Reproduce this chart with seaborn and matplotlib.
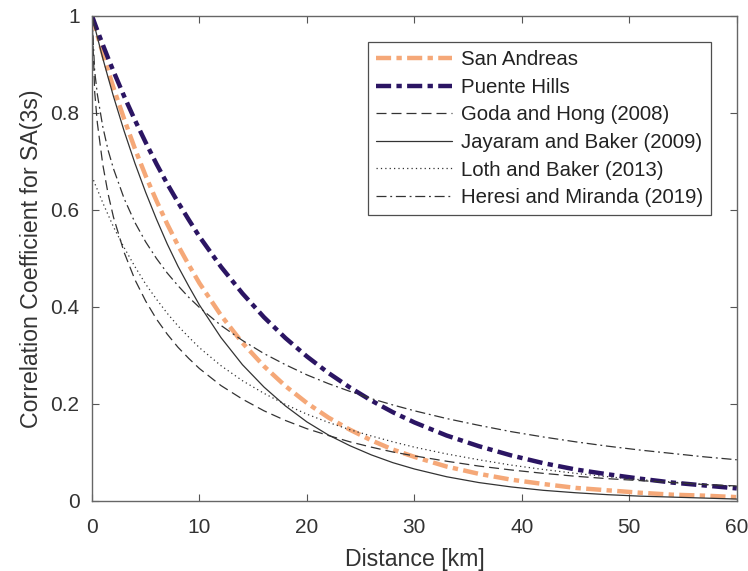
import numpy as np
import pandas as pd
import seaborn as sns
import matplotlib.pyplot as plt

distance = [0, 0.25, 0.5, 1, 1.5, 2, 3, 4, 5, 6, 7, 8, 9, 10, 12, 14, 16, 18, 20,
            22, 24, 26, 28, 30, 33, 36, 39, 42, 45, 48, 51, 54, 57, 60]

san_andreas = [1.0, 0.980, 0.961, 0.923, 0.887, 0.852, 0.787, 0.726, 0.670, 0.619,
               0.571, 0.527, 0.487, 0.449, 0.383, 0.326, 0.278, 0.237, 0.202,
               0.172, 0.147, 0.125, 0.106, 0.091, 0.071, 0.056, 0.044, 0.035,
               0.027, 0.022, 0.017, 0.013, 0.011, 0.008]

puente_hills = [1.0, 0.985, 0.970, 0.941, 0.913, 0.886, 0.834, 0.785, 0.739, 0.695,
                0.654, 0.616, 0.580, 0.545, 0.483, 0.428, 0.379, 0.336, 0.298,
                0.264, 0.234, 0.207, 0.183, 0.162, 0.135, 0.113, 0.094, 0.078,
                0.065, 0.055, 0.046, 0.038, 0.032, 0.026]

goda_hong = [1.0, 0.843, 0.779, 0.694, 0.633, 0.585, 0.512, 0.456, 0.412, 0.375,
             0.344, 0.317, 0.294, 0.273, 0.238, 0.210, 0.186, 0.166, 0.149,
             0.135, 0.122, 0.111, 0.101, 0.093, 0.082, 0.072, 0.064, 0.057,
             0.051, 0.046, 0.042, 0.038, 0.034, 0.031]

jayaram_baker = [1.0, 0.978, 0.956, 0.913, 0.873, 0.834, 0.762, 0.696, 0.636, 0.581,
                 0.530, 0.484, 0.443, 0.404, 0.337, 0.281, 0.235, 0.196, 0.163,
                 0.136, 0.114, 0.095, 0.079, 0.066, 0.050, 0.038, 0.029, 0.022,
                 0.017, 0.013, 0.010, 0.008, 0.006, 0.004]

loth_baker = [0.670, 0.655, 0.642, 0.615, 0.590, 0.565, 0.522, 0.483, 0.447, 0.416,
              0.387, 0.361, 0.338, 0.316, 0.279, 0.248, 0.222, 0.199, 0.179,
              0.162, 0.147, 0.134, 0.122, 0.111, 0.097, 0.085, 0.074, 0.065,
              0.057, 0.050, 0.044, 0.039, 0.034, 0.030]

heresi_miranda = [1.0, 0.886, 0.838, 0.772, 0.723, 0.685, 0.623, 0.574, 0.534, 0.500,
                  0.470, 0.444, 0.420, 0.399, 0.362, 0.331, 0.304, 0.281, 0.260,
                  0.242, 0.226, 0.211, 0.198, 0.186, 0.170, 0.156, 0.143, 0.132,
                  0.122, 0.113, 0.105, 0.098, 0.091, 0.085]

sns.set_style("ticks")
plt.rcParams['font.family'] = ['Liberation Sans', 'DejaVu Sans']

fig = plt.figure(figsize=(7.48, 5.71), dpi=100)
ax = fig.add_axes([0.123, 0.1226, 0.862, 0.8494])

# model curves
sns.lineplot(x=distance, y=san_andreas, ax=ax, color='#f5a878', lw=3.2,
             linestyle=(0, (3.4, 1.2, 1.2, 1.2)), label='San Andreas')
sns.lineplot(x=distance, y=puente_hills, ax=ax, color='#2b1563', lw=3.2,
             linestyle=(0, (3.4, 1.2, 1.2, 1.2)), label='Puente Hills')
sns.lineplot(x=distance, y=goda_hong, ax=ax, color='#333333', lw=0.9,
             linestyle=(0, (8, 4)), label='Goda and Hong (2008)')
sns.lineplot(x=distance, y=jayaram_baker, ax=ax, color='#333333', lw=0.9,
             linestyle='-', label='Jayaram and Baker (2009)')
sns.lineplot(x=distance, y=loth_baker, ax=ax, color='#333333', lw=0.9,
             linestyle=(0, (1, 2.5)), label='Loth and Baker (2013)')
sns.lineplot(x=distance, y=heresi_miranda, ax=ax, color='#333333', lw=0.9,
             linestyle=(0, (8, 3, 1.5, 3)), label='Heresi and Miranda (2019)')

ax.set_xlim(0, 60)
ax.set_ylim(0, 1)
ax.set_xticks([0, 10, 20, 30, 40, 50, 60])
ax.set_yticks([0, 0.2, 0.4, 0.6, 0.8, 1])
ax.set_yticklabels(['0', '0.2', '0.4', '0.6', '0.8', '1'])

for side in ['top', 'right', 'bottom', 'left']:
    ax.spines[side].set_visible(True)
    ax.spines[side].set_color('#666666')
    ax.spines[side].set_linewidth(1.0)
ax.tick_params(direction='in', length=5, width=0.8, color='#555555',
               top=True, right=True, labelsize=15, labelcolor='#333333')
ax.tick_params(axis='x', pad=12)
ax.tick_params(axis='y', pad=9)

ax.set_xlabel('Distance [km]', fontsize=16.7, color='#333333', labelpad=8)
ax.set_ylabel('Correlation Coefficient for SA(3s)', fontsize=16.7, color='#333333', labelpad=5)

leg = ax.legend(loc='upper right', bbox_to_anchor=(0.96, 0.946), borderaxespad=0,
                fontsize=14.7, frameon=True, fancybox=False, handlelength=3.7,
                handletextpad=0.45, labelspacing=0.42, borderpad=0.4)
leg.get_frame().set_edgecolor('#222222')
leg.get_frame().set_linewidth(0.9)
for txt in leg.get_texts():
    txt.set_color('#222222')

plt.savefig('out.png', dpi=100)
